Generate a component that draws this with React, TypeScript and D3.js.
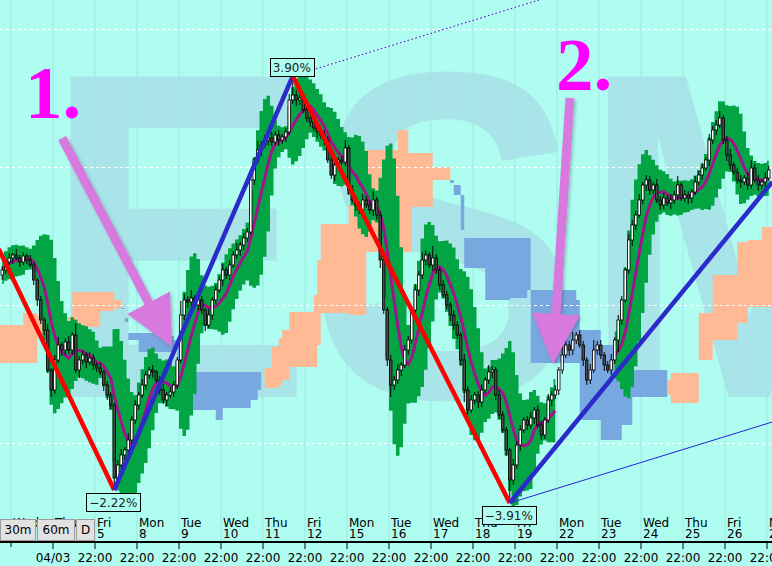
import { useMemo } from 'react';
import * as d3 from 'd3';

const width = 772;
const height = 566;
const plotBottom = 541;
const bg = '#aefdf0';

// 2h candles, prices in index points
const firstOpen = 10925;
const closes = [
  10930, 10938, 10942,
  10945, 10942, 10938, 10944, 10940, 10935,
  10920, 10900, 10880, 10870,
  10830, 10810,
  10840, 10855, 10850, 10858,
  10850, 10865, 10830, 10840,
  10845, 10838, 10842, 10835, 10832, 10828,
  10815, 10805, 10795,
  10722, 10735,
  10745, 10750, 10760, 10780,
  10795, 10805, 10815,
  10825, 10830, 10828, 10820,
  10810, 10800, 10805, 10808, 10815,
  10840, 10885,
  10900, 10898, 10902, 10895, 10900,
  10890, 10875, 10885, 10900,
  10910, 10920, 10930, 10925, 10935, 10945,
  10950, 10955, 10962, 10968,
  11020, 11040, 11050, 11055,
  11060, 11062, 11058, 11065, 11060, 11063, 11068,
  11100,
  11105, 11100, 11102,
  11090, 11082, 11078,
  11072, 11068, 11065, 11060,
  11040, 11025,
  11035, 11040, 11038, 11052,
  11010, 11000, 10995, 10990,
  11000, 10995, 10990, 11000, 10985,
  10940, 10890, 10840, 10815,
  10820, 10830, 10835, 10850, 10860,
  10890, 10910, 10925,
  10940, 10945, 10935, 10942, 10930,
  10915, 10905, 10895,
  10885, 10875, 10865,
  10840, 10810, 10790,
  10800, 10805, 10798, 10810,
  10820, 10828, 10830,
  10805, 10785, 10770, 10750,
  10720, 10735, 10755,
  10770, 10780, 10775, 10782, 10790,
  10775, 10765, 10780,
  10800, 10805, 10810, 10830,
  10845, 10855, 10850,
  10860, 10865, 10855,
  10840, 10820, 10830,
  10850, 10855, 10845,
  10835, 10830, 10840,
  10860, 10880, 10900,
  10930, 10960, 10975,
  10985, 11000,
  11015, 11020, 11010, 11015,
  11000, 10995, 11002, 10997,
  11000, 11005, 11015, 11002,
  11005, 11002, 11008,
  11018, 11025, 11032, 11040,
  11060, 11070, 11075, 11082, 11060,
  11045, 11035, 11028,
  11020, 11018, 11022, 11015,
  11032, 11020,
  11015, 11018, 11022,
  11030,
];
const wickUp = [
  4, 3, 5, 2, 6, 3, 4, 2, 5, 3,
  2, 4, 3, 6, 2, 5, 8, 3, 4, 6,
  3, 12, 4, 5, 3, 6, 4, 3, 5, 2,
  4, 3, 2, 5, 6, 3, 7, 4, 5, 3,
  6, 4, 3, 5, 2, 4, 6, 3, 5, 4,
  3, 14, 6, 4, 8, 3, 5, 4, 2, 6,
  3, 5, 4, 6, 3, 5, 4, 7, 3, 5,
  4, 6, 3, 9, 4, 5, 3, 6, 4, 5,
  3, 4, 6, 19, 5, 3, 4, 6, 3, 5,
  4, 3, 5, 4, 6, 5, 3, 4, 8, 3,
  5, 4, 3, 6, 4, 5, 9, 3, 4, 2,
  3, 5, 4, 6, 3, 5, 4, 3, 6, 4,
  8, 5, 3, 12, 4, 3, 5, 4, 3, 5,
  4, 3, 6, 4, 5, 3, 4, 6, 3, 7,
  4, 3, 5, 4, 3, 2, 6, 4, 5, 3,
  4, 6, 3, 5, 4, 3, 6, 4, 5, 3,
  12, 5, 4, 8, 3, 5, 4, 3, 6, 10,
  4, 5, 3, 4, 6, 3, 5, 4, 3, 6,
  5, 4, 6, 3, 5, 4, 3, 6, 4, 5,
  3, 6, 4, 9, 3, 5, 4, 3, 6, 4,
  5, 3, 6, 4, 5, 7, 3, 4, 6, 3,
  4, 5, 3, 6, 8, 4, 5, 3, 6, 4,
];
const wickDown = [
  5, 4, 3, 6, 2, 5, 3, 4, 2, 5,
  6, 4, 5, 3, 7, 4, 3, 6, 5, 4,
  5, 3, 8, 4, 6, 3, 5, 4, 3, 6,
  5, 4, 12, 6, 4, 5, 3, 6, 4, 5,
  3, 5, 4, 6, 3, 5, 4, 6, 3, 5,
  4, 3, 5, 6, 4, 3, 5, 4, 6, 3,
  5, 4, 3, 6, 4, 5, 3, 4, 6, 5,
  4, 3, 5, 4, 6, 3, 5, 4, 3, 6,
  4, 5, 3, 4, 6, 5, 3, 4, 5, 3,
  6, 4, 5, 3, 4, 6, 5, 3, 4, 5,
  3, 6, 4, 5, 3, 4, 6, 5, 8, 4,
  6, 12, 5, 4, 6, 3, 5, 4, 3, 6,
  4, 5, 3, 6, 4, 5, 3, 4, 6, 5,
  4, 6, 12, 5, 3, 4, 6, 5, 3, 4,
  6, 5, 4, 3, 6, 23, 5, 4, 6, 3,
  5, 4, 6, 3, 5, 4, 3, 6, 4, 5,
  4, 3, 6, 5, 4, 3, 6, 5, 4, 3,
  5, 4, 6, 3, 5, 4, 12, 5, 3, 4,
  6, 5, 3, 4, 6, 5, 4, 3, 5, 4,
  3, 6, 4, 5, 3, 4, 6, 5, 3, 4,
  5, 3, 6, 4, 5, 3, 4, 6, 5, 3,
  4, 6, 3, 5, 4, 3, 6, 4, 5, 3,
];

// cloud change points (bar index, span A, span B)
const cloudBars = [
  -1, 6, 10, 16, 20, 28, 32,
  34, 35, 36, 39, 44, 49, 50, 54, 61, 63, 71, 73,
  74, 75, 77, 79, 80, 82, 89, 90, 91, 99, 103, 104, 113, 116, 117, 123,
  128, 129, 131, 132, 138, 145, 150, 151, 164, 165, 171, 177, 180,
  190, 191, 199, 203, 210, 213, 217, 220,
];
const spanA = [
  10837, 10837, 10865, 10870, 10873, 10889, 10892,
  10892, 10882, 10867, 10867, 10864, 10860, 10857, 10828, 10828, 10828, 10828, 10828,
  10826, 10812, 10812, 10815, 10820, 10833, 10833, 10855, 10887, 10885, 10885, 10948, 10948, 10948, 10993, 11020,
  11020, 11015, 11005, 10962, 10962, 10962, 10962, 10910, 10900, 10870, 10855, 10835, 10830,
  10805, 10797, 10840, 10860, 10877, 10893, 10893, 10893,
];
const spanB = [
  10875, 10887, 10884, 10883, 10908, 10908, 10900,
  10891, 10878, 10860, 10848, 10848, 10850, 10835, 10790, 10780, 10792, 10800, 10810,
  10827, 10832, 10853, 10862, 10870, 10888, 10905, 10940, 10976, 10995, 11050, 11050, 11070, 11047, 11047, 11033,
  11017, 11005, 10970, 10932, 10900, 10902, 10910, 10837, 10837, 10780, 10760, 10775, 10803,
  10820, 10827, 10887, 10925, 10958, 10960, 10973, 10973,
];

// swings
const swingBars = [-1, 32, 83, 145, 220];
const swingPrices = [10951, 10710, 11124, 10697, 11018];
const swingLabels = ['', '\u22122.22%', '3.90%', '\u22123.91%', ''];
const channelBars = [145, 220];
const channelPrices = [10697, 10778];

const priceGrid = [10757, 10895, 11033, 11171];

// time axis
const dayNames = ['Wed', 'Thu', 'Fri', 'Mon', 'Tue', 'Wed', 'Thu', 'Fri', 'Mon', 'Tue', 'Wed', 'Thu', 'Fri', 'Mon', 'Tue', 'Wed', 'Thu', 'Fri', 'Mon'];
const dayNums = ['3', '4', '5', '8', '9', '10', '11', '12', '15', '16', '17', '18', '19', '22', '23', '24', '25', '26', '29'];
const timeLabels = ['', '04/03', '22:00', '22:00', '22:00', '22:00', '22:00', '22:00', '22:00', '22:00', '22:00', '22:00', '22:00', '22:00', '22:00', '22:00', '22:00', '22:00', '22:00'];
const barsPerDay = 12;
const firstSession = 2.5;

// indicator is missing over the holiday
const gapFrom = 159;
const gapTo = 174;

// notes
const noteText = ['1.', '2.'];
const noteBar = [6.5, 158.2];
const notePrice = [11082, 11110];
const arrowFromBar = [17.1, 162.2];
const arrowFromPrice = [11062, 11102];
const arrowToBar = [48.5, 157.3];
const arrowToPrice = [10853, 10836];

const buttons = ['30m', '60m', 'D'];
const buttonX = [0, 37, 76];
const buttonW = [35, 37, 18];

function arrowPath(x0: number, y0: number, x1: number, y1: number) {
  const dx = x1 - x0, dy = y1 - y0, len = Math.hypot(dx, dy);
  const ux = dx / len, uy = dy / len, px = -uy, py = ux;
  const head = 50, hw = 24, sw = 4.5;
  const bx = x1 - ux * head, by = y1 - uy * head;
  const pts = [
    [x0 + px * sw, y0 + py * sw], [bx + px * sw, by + py * sw], [bx + px * hw, by + py * hw],
    [x1, y1],
    [bx - px * hw, by - py * hw], [bx - px * sw, by - py * sw], [x0 - px * sw, y0 - py * sw],
  ];
  return 'M' + pts.map(p => p[0].toFixed(1) + ',' + p[1].toFixed(1)).join('L') + 'Z';
}

export default function App() {
  const x = d3.scaleLinear().domain([0, closes.length]).range([2.25, 2.25 + 3.5 * closes.length]);
  const y = d3.scaleLinear().domain([10658, 11200]).range([542, 0]);

  const bars = closes.map((c, i) => {
    const o = i === 0 ? firstOpen : closes[i - 1];
    return { i, o, c, hi: Math.max(o, c) + wickUp[i], lo: Math.min(o, c) - wickDown[i] };
  });

  // bollinger-style envelope and a moving average
  const stats = bars.map((b, i) => {
    const win = bars.slice(Math.max(0, i - 6), i + 1);
    const vals = win.flatMap(w => [w.hi, w.lo, w.c]);
    const m = d3.mean(win, w => w.c) as number;
    const sd = d3.deviation(vals) ?? 0;
    const ma = d3.mean(bars.slice(Math.max(0, i - 6), i + 1), w => w.c) as number;
    return { i, hi: m + 1.9 * sd, lo: m - 1.9 * sd, ma };
  });
  type S = typeof stats[0];
  const shown = (i: number) => i < gapFrom || i > gapTo;
  const band = d3.area<S>().defined(d => shown(d.i)).x(d => x(d.i)).y0(d => y(d.lo)).y1(d => y(d.hi)).curve(d3.curveStep);
  const maLine = d3.line<S>().defined(d => shown(d.i)).x(d => x(d.i)).y(d => y(d.ma));

  const cloudPts = cloudBars.map((b, k) => ({ b, a: spanA[k], s: spanB[k], up: spanA[k] > spanB[k] }));
  type C = typeof cloudPts[0];
  const segs: { up: boolean; pts: C[] }[] = [];
  let start = 0;
  for (let k = 1; k <= cloudPts.length; k++) {
    if (k === cloudPts.length || cloudPts[k].up !== cloudPts[start].up) {
      segs.push({ up: cloudPts[start].up, pts: cloudPts.slice(start, Math.min(k + 1, cloudPts.length)) });
      start = k;
    }
  }
  const cloudArea = d3.area<C>().x(d => x(d.b)).y0(d => y(Math.min(d.a, d.s))).y1(d => y(Math.max(d.a, d.s))).curve(d3.curveStepAfter);

  const swings = swingBars.map((b, k) => ({ b, p: swingPrices[k], label: swingLabels[k], prev: k > 0 ? swingPrices[k - 1] : swingPrices[k] }));
  const legs = d3.pairs(swings);

  const slope = (channelPrices[1] - channelPrices[0]) / (channelBars[1] - channelBars[0]);
  const top = swings[2];
  const dotEndPrice = top.p + slope * (channelBars[1] - top.b);

  const measure = useMemo(() => {
    const ctx = document.createElement('canvas').getContext('2d');
    if (ctx) ctx.font = "12px 'DejaVu Sans'";
    return (s: string) => (ctx ? ctx.measureText(s).width : s.length * 7.5);
  }, []);

  const days = dayNames.map((n, k) => ({ n, num: dayNums[k], t: timeLabels[k], px: x(firstSession + barsPerDay * k) }));

  const axisFont = "'DejaVu Sans', sans-serif";

  return (
    <div style={{ position: 'absolute', left: 0, top: 0 }}>
      <svg width={width} height={height} style={{ display: 'block' }}>
        <defs>
          <clipPath id="plot"><rect x={0} y={0} width={width} height={plotBottom} /></clipPath>
          <filter id="ash" x="-20%" y="-20%" width="140%" height="140%">
            <feDropShadow dx="1.5" dy="1.5" stdDeviation="1.5" floodColor="#000" floodOpacity="0.25" />
          </filter>
        </defs>
        <rect x={0} y={0} width={width} height={height} fill={bg} />

        <g clipPath="url(#plot)">
          <text x={50.4} y={397} transform="scale(0.865,1)" fontFamily="'Liberation Sans', Arial, sans-serif" fontWeight="bold" fontSize={466} fill="#a8e4e8">ESM</text>

          {days.map(d => (
            <line key={'g' + d.px} x1={d.px} x2={d.px} y1={0} y2={plotBottom} stroke="#9de7e1" strokeWidth={1} />
          ))}

          {segs.map((s, k) => (
            <path key={'c' + k} d={cloudArea(s.pts) ?? ''} fill={s.up ? '#78a8e0' : '#ffb994'} />
          ))}

          {priceGrid.map(p => (
            <line key={'h' + p} x1={0} x2={width} y1={Math.round(y(p)) + 0.5} y2={Math.round(y(p)) + 0.5} stroke="#ffffff" strokeDasharray="3,3" />
          ))}

          <path d={band(stats) ?? ''} fill="#03a444" />
          <path d={maLine(stats) ?? ''} fill="none" stroke="#a3138e" strokeWidth={3} />

          {bars.map(b => {
            const cx = x(b.i);
            const yt = y(Math.max(b.o, b.c));
            const h = Math.max(1, Math.abs(y(b.o) - y(b.c)));
            return (
              <g key={'k' + b.i}>
                <line x1={cx} x2={cx} y1={y(b.hi)} y2={y(b.lo)} stroke="#000" strokeWidth={1} />
                <rect x={cx - 1.25} y={yt} width={2.5} height={h} fill={b.c >= b.o ? '#ffffff' : '#4a4a4a'} stroke="#000" strokeWidth={0.8} />
              </g>
            );
          })}

          <line x1={x(top.b)} y1={y(top.p)} x2={x(channelBars[1])} y2={y(dotEndPrice)} stroke="#ffffff" strokeWidth={1} />
          <line x1={x(top.b)} y1={y(top.p)} x2={x(channelBars[1])} y2={y(dotEndPrice)} stroke="#2020c8" strokeWidth={1} strokeDasharray="2,2" />
          <line x1={x(channelBars[0])} y1={y(channelPrices[0])} x2={x(channelBars[1])} y2={y(channelPrices[1])} stroke="#2424d4" strokeWidth={1} />

          {legs.map(([a, b], k) => (
            <line key={'z' + k} x1={x(a.b)} y1={y(a.p)} x2={x(b.b)} y2={y(b.p)} stroke={b.p < a.p ? '#ff0000' : '#2b2bcc'} strokeWidth={4.5} strokeLinecap="butt" />
          ))}

          {noteText.map((t, k) => (
            <g key={'n' + k}>
              <path d={arrowPath(x(arrowFromBar[k]), y(arrowFromPrice[k]), x(arrowToBar[k]), y(arrowToPrice[k]))} fill="#d879e0" filter="url(#ash)" />
              <text x={x(noteBar[k])} y={y(notePrice[k])} fontFamily="'Liberation Serif', 'Times New Roman', serif" fontWeight="bold" fontSize={75} fill="#ff00ff">{t}</text>
            </g>
          ))}
        </g>

        {days.map((d, k) => (
          <g key={'d' + k} fontFamily={axisFont} fontSize={12} fill="#000">
            <text x={d.px + 2} y={527}>{d.n}</text>
            <text x={d.px + 2} y={538}>{d.num}</text>
            {d.t && <text x={d.px} y={562} textAnchor="middle">{d.t}</text>}
            <line x1={d.px} x2={d.px} y1={542} y2={k === 0 ? 547 : 549} stroke="#000" strokeWidth={1} />
          </g>
        ))}
        <line x1={0} x2={width} y1={542} y2={542} stroke="#000" strokeWidth={2} />

        {swings.filter(s => s.label).map((s, k) => {
          const w = measure(s.label) + 6;
          const cx = x(s.b) - 1;
          const isLow = s.p < s.prev;
          const by = isLow ? y(s.p) + 3 : y(s.p) - 18;
          return (
            <g key={'l' + k}>
              <rect x={Math.round(cx - w / 2) + 0.5} y={Math.round(by) + 0.5} width={Math.round(w)} height={18} fill={bg} stroke="#000" strokeWidth={1} />
              <text x={cx} y={by + 14} textAnchor="middle" fontFamily={axisFont} fontSize={12} fill="#222">{s.label}</text>
            </g>
          );
        })}

        {buttons.map((b, k) => (
          <g key={'b' + k}>
            <rect x={buttonX[k] + 0.5} y={519.5} width={buttonW[k]} height={21} fill="#e2e2e2" stroke="#9c9c9c" />
            <text x={buttonX[k] + buttonW[k] / 2 + 0.5} y={534} textAnchor="middle" fontFamily={axisFont} fontSize={12} fill="#000">{b}</text>
          </g>
        ))}
      </svg>
    </div>
  );
}
